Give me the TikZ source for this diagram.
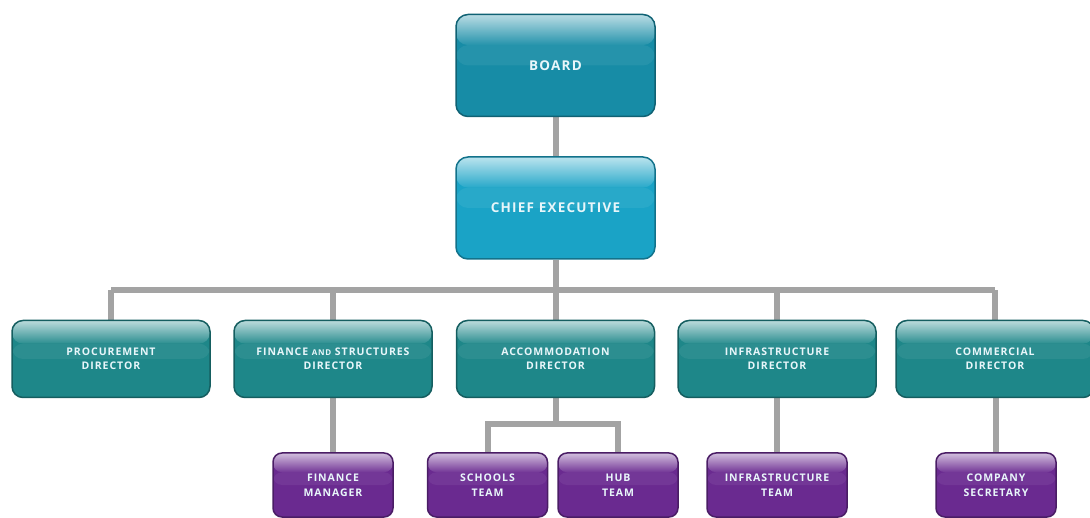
\documentclass[tikz,border=0pt]{standalone}
\usepackage{fontspec}
\setsansfont{Open Sans}[LetterSpace=9]
\usetikzlibrary{backgrounds,calc}
\definecolor{boardc}{HTML}{178CA6}
\definecolor{cec}{HTML}{1AA3C6}
\definecolor{dirc}{HTML}{1E8789}
\definecolor{purc}{HTML}{6A2A90}
\definecolor{linec}{HTML}{A3A3A3}
\definecolor{txtc}{HTML}{E8F6FA}
\tikzset{
  glossy/.style={path picture={
      \coordinate (gnw) at (path picture bounding box.north west);
      \coordinate (gne) at (path picture bounding box.north east);
      \coordinate (gse) at (path picture bounding box.south east);
      \coordinate (gsw) at (path picture bounding box.south west);
      \shade[top color=#1!30!white, bottom color=#1!94!white]
        (gnw) rectangle ($(gne)!0.3!(gse)$);
      \fill[#1!94!white] ($(gnw)!0.3!(gsw)$) rectangle ($(gne)!0.5!(gse)$);}},
  topbox/.style={draw=#1!70!black, line width=1.5pt, fill=#1, glossy=#1, rounded corners=12pt,
      minimum width=199pt, minimum height=102pt, text=txtc, align=center,
      font=\sffamily\bfseries\fontsize{13.5}{16}\selectfont},
  dirbox/.style={draw=dirc!70!black, line width=1.5pt, fill=dirc, glossy=dirc, rounded corners=11pt,
      minimum width=198pt, minimum height=77pt, text=txtc, align=center,
      font=\sffamily\bfseries\fontsize{10.5}{14}\selectfont},
  subbox/.style={draw=purc!70!black, line width=1.5pt, fill=purc, glossy=purc, rounded corners=9pt,
      minimum width=120pt, minimum height=64pt, text=txtc, align=center,
      font=\sffamily\bfseries\fontsize{10.5}{15}\selectfont},
  conn/.style={draw=linec, line width=6pt}
}
\begin{document}
\begin{tikzpicture}[x=1pt,y=-1pt]
\useasboundingbox (0,0) rectangle (1090,518);
\node[topbox=boardc] (board) at (555.5,65.5) {BOARD};
\node[topbox=cec] (ce) at (555.5,208) {CHIEF EXECUTIVE};
\node[dirbox] (proc) at (111,359) {PROCUREMENT\\DIRECTOR};
\node[dirbox] (fin) at (333,359) {FINANCE {\fontsize{8}{14}\selectfont AND} STRUCTURES\\DIRECTOR};
\node[dirbox] (acc) at (555.5,359) {ACCOMMODATION\\DIRECTOR};
\node[dirbox] (inf) at (777,359) {INFRASTRUCTURE\\DIRECTOR};
\node[dirbox] (com) at (995,359) {COMMERCIAL\\DIRECTOR};
\node[subbox] (fm) at (333,485) {FINANCE\\MANAGER};
\node[subbox] (st) at (487.5,485) {SCHOOLS\\TEAM};
\node[subbox] (hub) at (618,485) {HUB\\TEAM};
\node[subbox, minimum width=140pt] (it) at (777,485) {INFRASTRUCTURE\\TEAM};
\node[subbox] (cs) at (996,485) {COMPANY\\SECRETARY};
\coordinate (bar) at (555.5,290);
\coordinate (accbar) at (555.5,424);
\begin{scope}[on background layer]
\draw[conn] (board) -- (ce);
\draw[conn] (ce) -- (bar);
\draw[conn] (proc.center |- bar) -- (com.center |- bar);
\foreach \n in {proc,fin,acc,inf,com} \draw[conn] (\n.center) -- (\n.center |- bar);
\draw[conn] (fin) -- (fm);
\draw[conn] (acc) -- (accbar);
\draw[conn] (st.center) -- (st.center |- accbar) -- (hub.center |- accbar) -- (hub.center);
\draw[conn] (inf) -- (it);
\draw[conn] (cs.center) -- (cs.center |- com.center);
\end{scope}
\end{tikzpicture}
\end{document}
